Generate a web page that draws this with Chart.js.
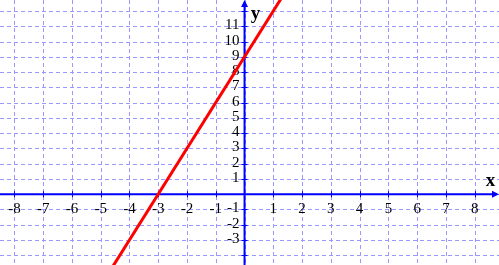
<!DOCTYPE html>
<html>
<head>
<meta charset="utf-8">
<script src="https://cdn.jsdelivr.net/npm/chart.js@4/dist/chart.umd.min.js"></script>
<style>
  body { margin: 0; background: #fff; }
  #wrap { width: 499px; height: 265px; }
</style>
</head>
<body>
<div id="wrap"><canvas id="myChart" width="499" height="265"></canvas></div>
<script>
// grid ticks
var xTicks = [-8, -7, -6, -5, -4, -3, -2, -1, 0, 1, 2, 3, 4, 5, 6, 7, 8];
var yTicks = [-4, -3, -2, -1, 0, 1, 2, 3, 4, 5, 6, 7, 8, 9, 10, 11, 12];
// labels that are printed on the axes
var xLabels = [-8, -7, -6, -5, -4, -3, -2, -1, 1, 2, 3, 4, 5, 6, 7, 8];
var yLabels = [-3, -2, -1, 1, 2, 3, 4, 5, 6, 7, 8, 9, 10, 11];
var lineX = [-5, 2];
var lineY = [-6, 15];

var gridColor = '#9999ff';
var axisColor = '#0000ff';

var axesPlugin = {
  id: 'axes',
  beforeDatasetsDraw: function (chart) {
    var ctx = chart.ctx;
    var xs = chart.scales.x, ys = chart.scales.y;
    var area = chart.chartArea;
    var x0 = xs.getPixelForValue(0), y0 = ys.getPixelForValue(0);
    ctx.save();

    // dashed grid
    ctx.strokeStyle = gridColor;
    ctx.lineWidth = 1;
    ctx.setLineDash([4, 3]);
    ctx.beginPath();
    xs.ticks.forEach(function (t) {
      var p = Math.round(xs.getPixelForValue(t.value)) + 0.5;
      ctx.moveTo(p, area.top); ctx.lineTo(p, area.bottom);
    });
    ys.ticks.forEach(function (t) {
      var p = Math.round(ys.getPixelForValue(t.value)) + 0.5;
      ctx.moveTo(area.left, p); ctx.lineTo(area.right, p);
    });
    ctx.stroke();
    ctx.setLineDash([]);

    // axes
    ctx.strokeStyle = axisColor;
    ctx.fillStyle = axisColor;
    ctx.lineWidth = 2;
    ctx.beginPath();
    ctx.moveTo(area.left, y0); ctx.lineTo(area.right - 4, y0);
    ctx.moveTo(x0, area.bottom); ctx.lineTo(x0, area.top + 4);
    ctx.stroke();
    // tick marks
    ctx.lineWidth = 1;
    ctx.beginPath();
    xTicks.forEach(function (v) {
      if (v === 0) return;
      var p = Math.round(xs.getPixelForValue(v)) + 0.5;
      ctx.moveTo(p, y0 - 3); ctx.lineTo(p, y0 + 3);
    });
    yTicks.forEach(function (v) {
      if (v === 0) return;
      var p = Math.round(ys.getPixelForValue(v)) + 0.5;
      ctx.moveTo(x0 - 3, p); ctx.lineTo(x0 + 3, p);
    });
    ctx.stroke();
    // arrow heads
    ctx.beginPath();
    ctx.moveTo(area.right, y0); ctx.lineTo(area.right - 7, y0 - 3.5); ctx.lineTo(area.right - 7, y0 + 3.5);
    ctx.closePath();
    ctx.moveTo(x0, area.top); ctx.lineTo(x0 - 3.5, area.top + 7); ctx.lineTo(x0 + 3.5, area.top + 7);
    ctx.closePath();
    ctx.fill();

    // tick labels
    ctx.fillStyle = '#000';
    ctx.font = '15px "Liberation Serif", serif';
    ctx.textAlign = 'center';
    ctx.textBaseline = 'alphabetic';
    xLabels.forEach(function (v) {
      ctx.fillText(String(v), xs.getPixelForValue(v), y0 + 19);
    });
    ctx.textAlign = 'right';
    yLabels.forEach(function (v) {
      ctx.fillText(String(v), x0 - 5, ys.getPixelForValue(v) + 3);
    });
    // axis names
    ctx.font = 'bold 19px "Liberation Serif", serif';
    ctx.textAlign = 'center';
    ctx.fillText('x', xs.getPixelForValue(8.55), y0 - 8);
    ctx.fillText('y', x0 + 11, 19);
    ctx.restore();
  }
};

function tickSetter(vals) {
  return function (scale) {
    scale.ticks = vals.map(function (v) { return { value: v }; });
  };
}

var ctx = document.getElementById('myChart').getContext('2d');
var myChart = new Chart(ctx, {
  type: 'scatter',
  data: {
    datasets: [{
      data: lineX.map(function (x, i) { return { x: x, y: lineY[i] }; }),
      showLine: true,
      borderColor: '#ff0000',
      borderWidth: 3,
      pointRadius: 0,
      fill: false
    }]
  },
  options: {
    responsive: false,
    animation: false,
    layout: { padding: 0 },
    plugins: { legend: { display: false }, tooltip: { enabled: false } },
    scales: {
      x: {
        type: 'linear',
        min: -8.5,
        max: 8.845,
        afterBuildTicks: tickSetter(xTicks),
        ticks: { display: false },
        border: { display: false },
        grid: { display: false, drawTicks: false }
      },
      y: {
        type: 'linear',
        min: -4.64,
        max: 12.72,
        afterBuildTicks: tickSetter(yTicks),
        ticks: { display: false },
        border: { display: false },
        grid: { display: false, drawTicks: false }
      }
    }
  },
  plugins: [axesPlugin]
});
</script>
</body>
</html>
